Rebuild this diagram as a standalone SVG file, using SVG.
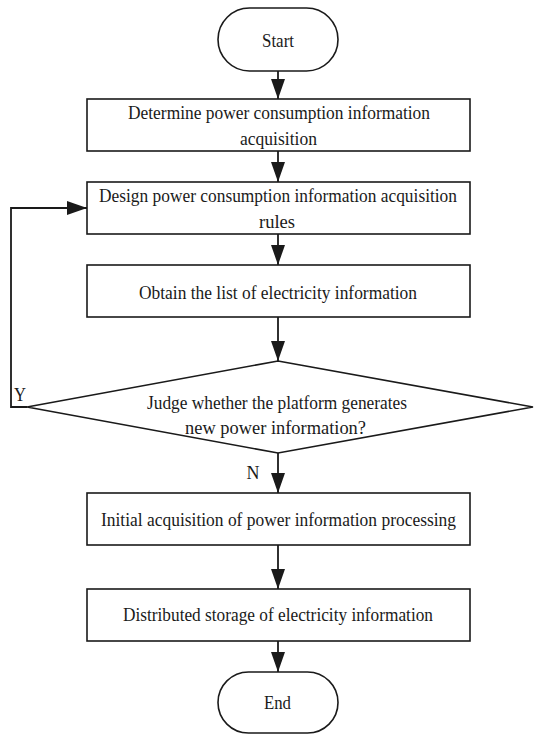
<svg xmlns="http://www.w3.org/2000/svg" width="536" height="734" viewBox="0 0 536 734">
<defs>
<style>
.n{fill:#fff;stroke:#1a1a1a;stroke-width:1.6}
.t{font-family:"Liberation Serif","Times New Roman","DejaVu Serif",serif;font-size:19.5px;fill:#1a1a1a;text-anchor:middle}
.c{fill:none;stroke:#1a1a1a;stroke-width:1.8}
</style>
<marker id="a" viewBox="0 0 20 14" refX="20" refY="7" markerWidth="20" markerHeight="14" markerUnits="userSpaceOnUse" orient="auto">
<path d="M0,0 L20,7 L0,14 Z" fill="#1a1a1a"/>
</marker>
</defs>
<g id="connectors">
<line class="c" x1="278" y1="71" x2="278" y2="99" marker-end="url(#a)"/>
<line class="c" x1="278" y1="151" x2="278" y2="182" marker-end="url(#a)"/>
<line class="c" x1="278" y1="234" x2="278" y2="265" marker-end="url(#a)"/>
<line class="c" x1="278" y1="317" x2="278" y2="361" marker-end="url(#a)"/>
<line class="c" x1="278" y1="453" x2="278" y2="493" marker-end="url(#a)"/>
<line class="c" x1="278" y1="545" x2="278" y2="589" marker-end="url(#a)"/>
<line class="c" x1="278" y1="641" x2="278" y2="672" marker-end="url(#a)"/>
<polyline class="c" points="27,407 11,407 11,208 87,208" marker-end="url(#a)"/>
<text class="t" x="20" y="401" textLength="12" lengthAdjust="spacingAndGlyphs">Y</text>
<text class="t" x="253" y="479" textLength="13" lengthAdjust="spacingAndGlyphs">N</text>
</g>
<g id="start">
<rect class="n" x="218" y="8" width="120" height="63" rx="31.5"/>
<text class="t" x="278" y="47" textLength="32" lengthAdjust="spacingAndGlyphs">Start</text>
</g>
<g id="determine">
<rect class="n" x="87" y="99" width="383" height="52"/>
<text class="t" x="279" y="119" textLength="302" lengthAdjust="spacingAndGlyphs">Determine power consumption information</text>
<text class="t" x="278.5" y="145" textLength="77" lengthAdjust="spacingAndGlyphs">acquisition</text>
</g>
<g id="design">
<rect class="n" x="87" y="182" width="383" height="52"/>
<text class="t" x="278" y="202" textLength="358" lengthAdjust="spacingAndGlyphs">Design power consumption information acquisition</text>
<text class="t" x="277" y="228" textLength="36" lengthAdjust="spacingAndGlyphs">rules</text>
</g>
<g id="obtain">
<rect class="n" x="87" y="265" width="383" height="52"/>
<text class="t" x="278" y="299" textLength="278" lengthAdjust="spacingAndGlyphs">Obtain the list of electricity information</text>
</g>
<g id="judge">
<polygon class="n" points="278,361 533,407 278,453 27,407"/>
<text class="t" x="277" y="409" textLength="260" lengthAdjust="spacingAndGlyphs">Judge whether the platform generates</text>
<text class="t" x="275.5" y="434" textLength="181" lengthAdjust="spacingAndGlyphs">new power information?</text>
</g>
<g id="initial">
<rect class="n" x="87" y="493" width="383" height="52"/>
<text class="t" x="278.5" y="526" textLength="355" lengthAdjust="spacingAndGlyphs">Initial acquisition of power information processing</text>
</g>
<g id="storage">
<rect class="n" x="87" y="589" width="383" height="52"/>
<text class="t" x="278" y="621" textLength="310" lengthAdjust="spacingAndGlyphs">Distributed storage of electricity information</text>
</g>
<g id="end">
<rect class="n" x="218" y="672" width="120" height="61" rx="30.5"/>
<text class="t" x="277.5" y="709" textLength="27" lengthAdjust="spacingAndGlyphs">End</text>
</g>
</svg>
